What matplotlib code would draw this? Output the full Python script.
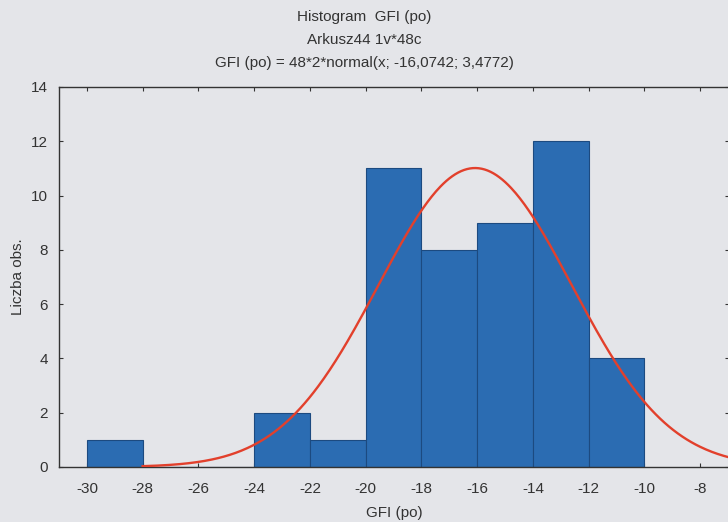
import numpy as np
import matplotlib
matplotlib.use("Agg")
import matplotlib.pyplot as plt

plt.rcParams['font.family'] = ['Liberation Sans', 'DejaVu Sans']

# Data
bin_edges = [-30, -28, -26, -24, -22, -20, -18, -16, -14, -12, -10]
counts = [1, 0, 0, 2, 1, 11, 8, 9, 12, 4]
n_obs = 48
bin_width = 2
mu = -16.0742
sigma = 3.4772
xticks = [-30, -28, -26, -24, -22, -20, -18, -16, -14, -12, -10, -8]
yticks = [0, 2, 4, 6, 8, 10, 12, 14]

bg = '#e4e5e9'
fig = plt.figure(figsize=(7.28, 5.22), dpi=100, facecolor=bg)
ax = fig.add_axes([59/728, 55/522, 1 - 59/728 + 0.002, 380/522])
ax.set_facecolor(bg)

lefts = bin_edges[:-1]
ax.bar(lefts, counts, width=bin_width, align='edge', color='#2b6cb2',
       edgecolor='#1c4a80', linewidth=0.8, zorder=2)

xs = np.linspace(-28, -6.9, 400)
ys = n_obs * bin_width * np.exp(-0.5 * ((xs - mu) / sigma) ** 2) / (sigma * np.sqrt(2 * np.pi))
ax.plot(xs, ys, color='#e2402c', linewidth=1.7, zorder=3)

ax.set_xlim(-31, -6.95)
ax.set_ylim(0, 14)
ax.set_xticks(xticks)
ax.set_yticks(yticks)
ax.set_xticklabels([str(t) for t in xticks])
ax.tick_params(direction='in', length=3, width=0.8, labelsize=11, colors='#333333',
               top=True, right=True)
ax.tick_params(axis='x', pad=11)
ax.tick_params(axis='y', pad=8)
for s in ax.spines.values():
    s.set_color('#333333')
    s.set_linewidth(1.0)

ax.set_xlabel('GFI (po)', fontsize=11, color='#333333', labelpad=7)
ax.set_ylabel('Liczba obs.', fontsize=11, color='#333333', labelpad=4)

fig.text(0.5, 1 - 17/522, 'Histogram  GFI (po)', ha='center', va='center', fontsize=11, color='#333333')
fig.text(0.5, 1 - 40/522, 'Arkusz44 1v*48c', ha='center', va='center', fontsize=11, color='#333333')
fig.text(0.5, 1 - 63/522, 'GFI (po) = 48*2*normal(x; -16,0742; 3,4772)', ha='center', va='center',
         fontsize=11, color='#333333')

fig.savefig('out.png', dpi=100, facecolor=bg)
